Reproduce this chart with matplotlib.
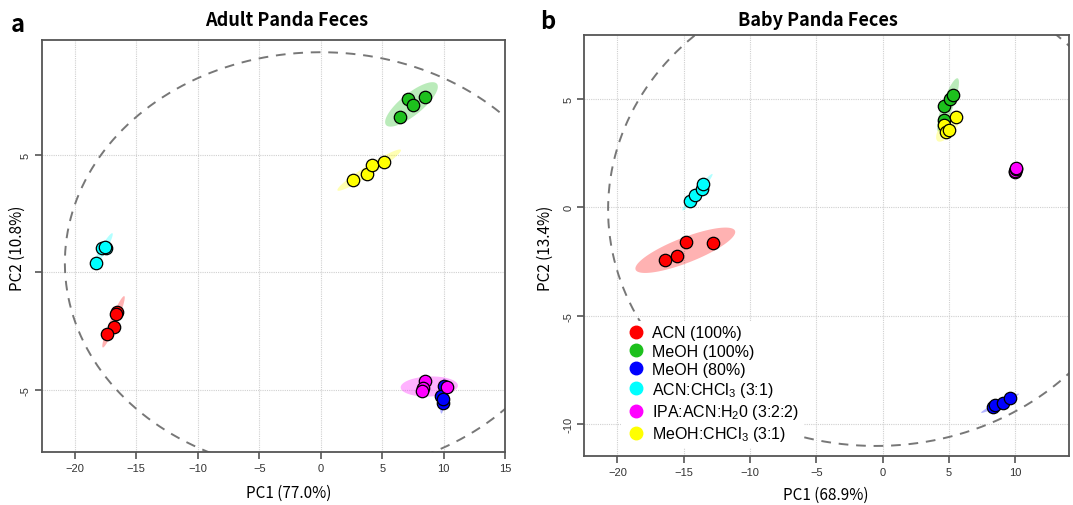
import numpy as np
import matplotlib
matplotlib.use("Agg")
import matplotlib.pyplot as plt

plt.rcParams['font.family'] = ['Noto Sans CJK SC', 'DejaVu Sans']
plt.rcParams['mathtext.fontset'] = 'custom'
plt.rcParams['mathtext.rm'] = 'Liberation Sans'
plt.rcParams['mathtext.it'] = 'Liberation Sans'

# solvent groups (legend order)
groups = ['ACN (100%)', 'MeOH (100%)', 'MeOH (80%)', 'ACN:CHCl$_3$ (3:1)',
          'IPA:ACN:H$_2$0 (3:2:2)', 'MeOH:CHCl$_3$ (3:1)']
colors = ['#FF0000', '#1DC01D', '#0000FF', '#00FFFF', '#FF00FF', '#FFFF00']

# adult panda feces scores (PC1, PC2)
adult_pc1 = {
    'ACN (100%)': [-16.53, -16.64, -16.84, -17.37],
    'MeOH (100%)': [7.11, 7.47, 8.51, 6.41],
    'MeOH (80%)': [10.02, 9.80, 9.94, 9.90],
    'ACN:CHCl$_3$ (3:1)': [-17.48, -17.79, -18.26, -17.55],
    'IPA:ACN:H$_2$0 (3:2:2)': [8.48, 8.34, 8.23, 10.24],
    'MeOH:CHCl$_3$ (3:1)': [2.60, 3.80, 4.20, 5.15],
}
adult_pc2 = {
    'ACN (100%)': [-1.71, -1.76, -2.32, -2.63],
    'MeOH (100%)': [7.38, 7.10, 7.45, 6.60],
    'MeOH (80%)': [-4.83, -5.25, -5.54, -5.40],
    'ACN:CHCl$_3$ (3:1)': [1.05, 1.02, 0.41, 1.06],
    'IPA:ACN:H$_2$0 (3:2:2)': [-4.62, -4.90, -5.04, -4.86],
    'MeOH:CHCl$_3$ (3:1)': [3.91, 4.19, 4.56, 4.70],
}

# baby panda feces scores
baby_pc1 = {
    'ACN (100%)': [-16.41, -15.50, -14.80, -12.79],
    'MeOH (100%)': [4.66, 5.10, 5.34, 4.66],
    'MeOH (80%)': [8.35, 8.45, 9.09, 9.60],
    'ACN:CHCl$_3$ (3:1)': [-14.52, -14.16, -13.61, -13.54],
    'IPA:ACN:H$_2$0 (3:2:2)': [9.98, 10.00, 10.05, 10.08],
    'MeOH:CHCl$_3$ (3:1)': [5.54, 4.66, 4.77, 5.04],
}
baby_pc2 = {
    'ACN (100%)': [-2.44, -2.24, -1.58, -1.65],
    'MeOH (100%)': [4.69, 5.00, 5.18, 4.04],
    'MeOH (80%)': [-9.20, -9.12, -9.02, -8.78],
    'ACN:CHCl$_3$ (3:1)': [0.28, 0.59, 0.85, 1.08],
    'IPA:ACN:H$_2$0 (3:2:2)': [1.64, 1.68, 1.75, 1.82],
    'MeOH:CHCl$_3$ (3:1)': [4.15, 3.80, 3.49, 3.57],
}

# dashed Hotelling ellipse: centre x, centre y, semi axis x, semi axis y
adult_t2 = (0.0, 0.4, 20.8, 8.95)
baby_t2 = (-0.5, -0.1, 20.2, 10.9)


def conf_ellipse(x, y, level=0.95, n=200):
    # same as R ellipse::ellipse on the covariance matrix
    x = np.asarray(x)
    y = np.asarray(y)
    sx, sy = np.std(x, ddof=1), np.std(y, ddof=1)
    r = np.cov(x, y)[0, 1] / (sx * sy)
    r = np.clip(r, -0.9999, 0.9999)
    t = np.sqrt(-2 * np.log(1 - level))
    d = np.arccos(r)
    a = np.linspace(0, 2 * np.pi, n)
    return x.mean() + t * sx * np.cos(a + d / 2), y.mean() + t * sy * np.cos(a - d / 2)


def draw_panel(ax, pc1, pc2, t2, xlim, ylim, xticks, yticks, ylabels):
    ax.set_xlim(*xlim)
    ax.set_ylim(*ylim)
    ax.set_xticks(xticks)
    ax.set_yticks(yticks)
    ax.set_yticklabels(ylabels, rotation=90, va='center')
    ax.grid(True, color='#d0d0d0', linestyle=(0, (1, 1)), linewidth=0.8)
    ax.set_axisbelow(True)

    a = np.linspace(0, 2 * np.pi, 400)
    ax.plot(t2[0] + t2[2] * np.cos(a), t2[1] + t2[3] * np.sin(a),
            color='#777777', linestyle=(0, (5, 4)), linewidth=1.4, zorder=1)

    for g, c in zip(groups, colors):
        ex, ey = conf_ellipse(pc1[g], pc2[g])
        ax.fill(ex, ey, color=c, alpha=0.3, linewidth=0, zorder=2)
    for g, c in zip(groups, colors):
        ax.scatter(pc1[g], pc2[g], s=80, color=c, edgecolor='black',
                   linewidth=0.9, zorder=3)

    for s in ax.spines.values():
        s.set_color('#555555')
        s.set_linewidth(1.3)
    ax.tick_params(colors='#555555', labelcolor='#333333', labelsize=8,
                   length=5, width=1.2, pad=3)
    for lab in ax.get_xticklabels() + ax.get_yticklabels():
        lab.set_family(['Liberation Sans', 'DejaVu Sans'])


fig = plt.figure(figsize=(10.73, 5.06), dpi=100)
ax1 = fig.add_axes([0.0389, 0.1042, 0.4320, 0.8148])
ax2 = fig.add_axes([0.5446, 0.0974, 0.4517, 0.8320])

draw_panel(ax1, adult_pc1, adult_pc2, adult_t2, (-22.68, 15.0), (-7.65, 9.87),
           [-20, -15, -10, -5, 0, 5, 10, 15], [-5, 0, 5], ['-5', '', '5'])
draw_panel(ax2, baby_pc1, baby_pc2, baby_t2, (-22.49, 14.07), (-11.45, 7.96),
           [-20, -15, -10, -5, 0, 5, 10], [-10, -5, 0, 5], ['-10', '-5', '0', '5'])

W, H = 1073, 506
lab_kw = dict(fontsize=11, ha='center', va='center')
fig.text(289 / W, 1 - 493 / H, 'PC1 (77.0%)', **lab_kw)
fig.text(17 / W, 1 - 248 / H, 'PC2 (10.8%)', rotation=90, **lab_kw)
fig.text(826 / W, 1 - 495 / H, 'PC1 (68.9%)', **lab_kw)
fig.text(545 / W, 1 - 248 / H, 'PC2 (13.4%)', rotation=90, **lab_kw)

fig.text(287 / W, 1 - 20 / H, 'Adult Panda Feces', fontsize=13,
         fontweight='bold', ha='center', va='center')
fig.text(818 / W, 1 - 20 / H, 'Baby Panda Feces', fontsize=13,
         fontweight='bold', ha='center', va='center')
fig.text(18 / W, 1 - 25 / H, 'a', fontsize=17, fontweight='bold',
         ha='center', va='center')
fig.text(548 / W, 1 - 22 / H, 'b', fontsize=17, fontweight='bold',
         ha='center', va='center')

handles = [plt.Line2D([], [], marker='o', linestyle='', color=c, markersize=9)
           for c in colors]
leg = ax2.legend(handles, groups, loc='upper left', bbox_to_anchor=(0.06, 0.34),
                 frameon=True, prop={'family': 'Liberation Sans', 'size': 11.5},
                 handletextpad=0.4, labelspacing=0.2, borderpad=0.3,
                 handlelength=1.2)
leg.get_frame().set_facecolor('white')
leg.get_frame().set_edgecolor('none')
leg.get_frame().set_alpha(1)
leg.set_zorder(5)

fig.savefig('out.png', dpi=100)
